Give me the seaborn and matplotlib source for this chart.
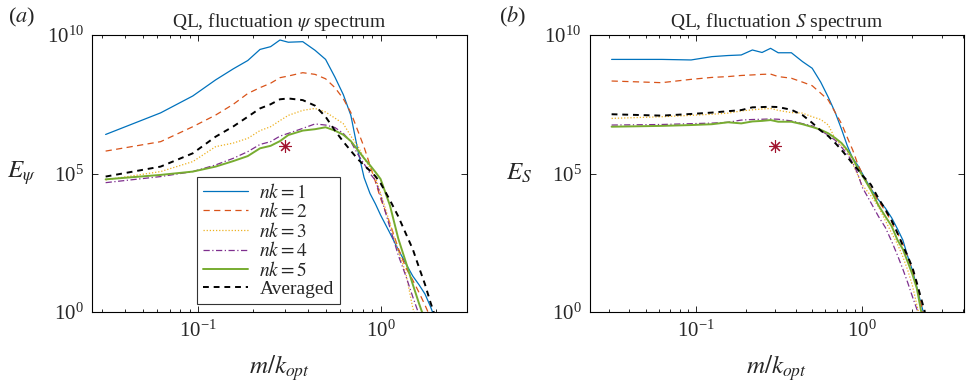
import numpy as np
import matplotlib
matplotlib.use("Agg")
import matplotlib.pyplot as plt
import matplotlib.ticker as mticker
import seaborn as sns

# wavenumber index m, plotted as m / k_opt
k_opt = 32
m_left = [1, 2, 3, 4, 5, 6, 7, 8, 9, 10, 12, 14, 16, 18, 20, 22, 24, 26, 28, 30,
          32, 36, 40, 44, 48, 52, 56, 60, 64]
m_right = [1, 2, 3, 4, 5, 6, 7, 8, 9, 10, 12, 14, 16, 18, 20, 22, 24, 26, 28, 30,
           32, 36, 40, 44, 48, 52, 56, 60, 64, 68, 72, 76]

# log10 of the psi spectrum (panel a)
psi_nk1 = [6.41, 7.19, 7.80, 8.38, 8.78, 9.08, 9.48, 9.58, 9.82, 9.74, 9.76, 9.45, 9.12, 8.48, 7.85,
           7.10, 5.85, 4.85, 4.28, 3.90, 3.50, 2.85, 2.25, 1.75, 1.30, 0.98, 0.65, 0.20, -0.30]
psi_nk2 = [5.81, 6.15, 6.69, 7.11, 7.50, 7.89, 8.10, 8.26, 8.46, 8.52, 8.64, 8.58, 8.42, 8.10, 7.70,
           7.20, 6.55, 5.95, 5.30, 4.70, 4.10, 3.20, 2.30, 1.60, 1.15, 0.70, 0.25, -0.20, -0.60]
psi_nk3 = [4.77, 5.07, 5.43, 5.97, 6.10, 6.27, 6.55, 6.69, 6.91, 7.10, 7.28, 7.35, 7.22, 7.00, 6.80,
           6.35, 6.00, 5.55, 5.20, 4.85, 4.30, 3.20, 2.20, 1.40, 0.15, -0.60, -1.20, -1.70, -2.20]
psi_nk4 = [4.67, 4.89, 5.07, 5.31, 5.55, 5.79, 6.05, 6.15, 6.35, 6.45, 6.63, 6.79, 6.75, 6.66, 6.45,
           6.15, 5.70, 5.35, 5.00, 4.75, 4.20, 3.05, 2.05, 1.30, 0.55, -0.10, -0.70, -1.20, -1.70]
psi_nk5 = [4.79, 4.95, 5.07, 5.25, 5.45, 5.63, 5.91, 6.00, 6.17, 6.39, 6.55, 6.60, 6.67, 6.55, 6.40,
           6.17, 5.85, 5.55, 5.30, 5.05, 4.80, 3.85, 2.65, 1.80, 1.00, 0.30, -0.30, -0.90, -1.50]
psi_avg = [4.89, 5.25, 5.73, 6.33, 6.70, 7.05, 7.35, 7.50, 7.68, 7.71, 7.65, 7.45, 7.05, 6.55, 6.15,
           5.82, 5.52, 5.30, 5.10, 4.90, 4.65, 4.04, 3.45, 2.83, 2.27, 1.60, 1.00, 0.35, -0.20]

# log10 of the S spectrum (panel b)
s_nk1 = [9.12, 9.12, 9.10, 9.22, 9.26, 9.28, 9.46, 9.37, 9.52, 9.36, 9.36, 9.04, 8.80, 8.30, 7.75, 7.20,
         6.60, 6.00, 5.55, 5.30, 5.00, 4.45, 4.05, 3.75, 3.40, 3.00, 2.60, 2.00, 1.50, 0.90, 0.30, -0.20]
s_nk2 = [8.34, 8.28, 8.40, 8.47, 8.50, 8.54, 8.56, 8.58, 8.59, 8.50, 8.44, 8.30, 8.17, 7.90, 7.65, 7.20,
         6.80, 6.30, 5.85, 5.35, 4.98, 4.45, 4.00, 3.65, 3.25, 2.85, 2.45, 2.00, 1.50, 0.90, 0.30, -0.30]
s_nk3 = [6.99, 7.05, 7.10, 7.14, 7.18, 7.26, 7.30, 7.33, 7.35, 7.28, 7.20, 7.18, 7.05, 6.95, 6.75, 6.25,
         6.00, 5.80, 5.35, 4.95, 4.58, 4.20, 3.80, 3.30, 2.85, 2.45, 2.00, 1.50, 0.95, 0.25, -0.40, -1.00]
s_nk4 = [6.75, 6.77, 6.80, 6.82, 6.85, 6.93, 6.95, 6.96, 6.97, 6.96, 6.90, 6.80, 6.72, 6.55, 6.38, 6.20,
         5.95, 5.70, 5.40, 5.00, 4.50, 3.95, 3.45, 3.05, 2.55, 2.05, 1.55, 1.05, 0.55, 0.10, -0.40, -0.90]
s_nk5 = [6.69, 6.72, 6.75, 6.78, 6.85, 6.81, 6.88, 6.90, 6.93, 6.87, 6.87, 6.78, 6.68, 6.58, 6.45, 6.28,
         6.10, 5.85, 5.55, 5.20, 4.93, 4.40, 3.85, 3.45, 3.10, 2.60, 2.27, 1.80, 1.35, 0.85, 0.05, -0.50]
s_avg = [7.14, 7.09, 7.15, 7.20, 7.25, 7.29, 7.39, 7.40, 7.41, 7.40, 7.30, 7.11, 6.83, 6.55, 6.35, 6.10,
         5.85, 5.60, 5.35, 5.15, 4.93, 4.60, 4.10, 3.70, 3.30, 2.85, 2.40, 2.00, 1.60, 1.05, 0.50, 0.00]

# marker for the optimal wavenumber
star_x = 0.3
star_y = 1.0e6

labels = ["$nk=1$", "$nk=2$", "$nk=3$", "$nk=4$", "$nk=5$", "Averaged"]
colors = ["#0072BD", "#D95319", "#EDB120", "#7E2F8E", "#77AC30", "black"]
styles = ["-", (0, (5, 3.5)), (0, (1, 1.5)), (0, (5, 2, 1, 2)), "-", (0, (3, 2.5))]
widths = [0.9, 0.9, 0.9, 0.9, 1.4, 1.4]

sns.set_style("ticks")
plt.rcParams["font.family"] = ["Liberation Serif", "DejaVu Serif"]
plt.rcParams["mathtext.fontset"] = "stix"
plt.rcParams["xtick.direction"] = "in"
plt.rcParams["ytick.direction"] = "in"

fig = plt.figure(figsize=(9.66, 3.82), dpi=100)
ax1 = fig.add_axes([0.0955, 0.1832, 0.3876, 0.7251])
ax2 = fig.add_axes([0.6105, 0.1832, 0.3875, 0.7251])


def draw_panel(ax, m, curves, xlim, title, ylabel, show_legend):
    ax.set_xscale("log")
    ax.set_yscale("log")
    x = np.array(m) / k_opt
    for vals, lab, c, ls, lw in zip(curves, labels, colors, styles, widths):
        sns.lineplot(x=x, y=10.0 ** np.array(vals), ax=ax, color=c, linestyle=ls,
                     linewidth=lw, label=lab if show_legend else None)
    ax.plot([star_x], [star_y], marker=(8, 2, 0), color="#A2142F", markersize=9,
            markeredgewidth=0.8, linestyle="none")
    ax.set_xlim(*xlim)
    ax.set_ylim(1, 1e10)
    ax.yaxis.set_major_locator(mticker.FixedLocator([1, 1e5, 1e10]))
    ax.yaxis.set_minor_locator(mticker.NullLocator())
    ax.xaxis.set_minor_formatter(mticker.NullFormatter())
    ax.tick_params(which="both", top=True, right=True, labelsize=15, pad=6, width=0.7)
    ax.tick_params(which="major", length=4)
    ax.tick_params(which="minor", length=2.5)
    for sp in ax.spines.values():
        sp.set_linewidth(0.8)
        sp.set_color("black")
    ax.set_title(title, fontsize=14, pad=6)
    ax.set_xlabel("$m/k_{opt}$", fontsize=18)
    ax.xaxis.set_label_coords(0.5, -0.15)
    ax.set_ylabel(ylabel, fontsize=18, rotation=0, va="center", ha="center")
    ax.yaxis.set_label_coords(-0.19, 0.5)
    if show_legend:
        leg = ax.legend(loc="lower left", bbox_to_anchor=(0.28, 0.029), borderaxespad=0,
                        fontsize=14, fancybox=False, framealpha=1, edgecolor="#333333",
                        labelspacing=0.03, handlelength=2.3, borderpad=0.3, handletextpad=0.6)
        leg.get_frame().set_linewidth(0.8)


draw_panel(ax1, m_left, [psi_nk1, psi_nk2, psi_nk3, psi_nk4, psi_nk5, psi_avg],
           (0.0264, 2.96), r"QL, fluctuation $\psi$ spectrum", r"$E_\psi$", True)
draw_panel(ax2, m_right, [s_nk1, s_nk2, s_nk3, s_nk4, s_nk5, s_avg],
           (0.0231, 4.08), r"QL, fluctuation $S$ spectrum", r"$E_S$", False)

fig.text(0.008, 0.955, "($a$)", fontsize=16, ha="left", va="center")
fig.text(0.517, 0.955, "($b$)", fontsize=16, ha="left", va="center")

fig.savefig("out.png", dpi=100)
